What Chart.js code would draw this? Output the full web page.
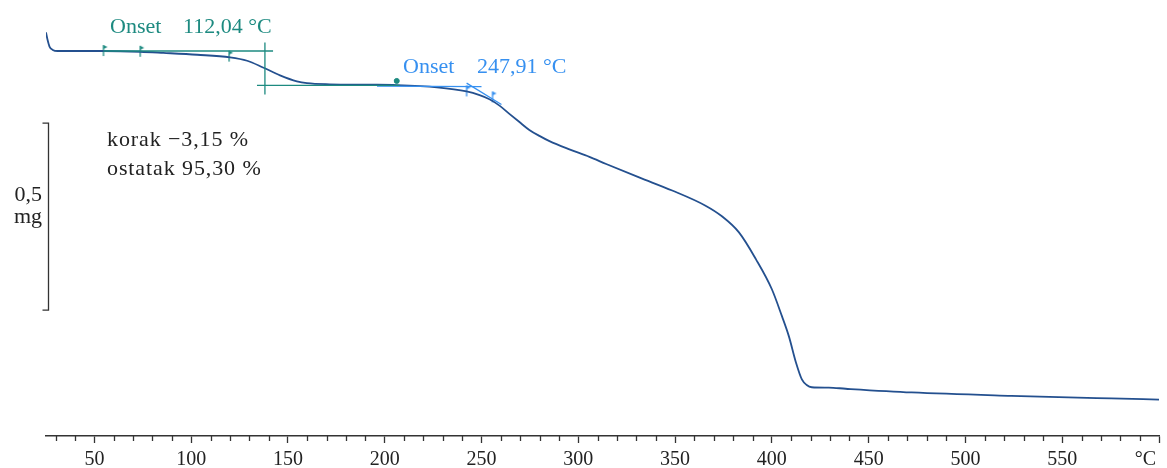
<!DOCTYPE html>
<html>
<head>
<meta charset="utf-8">
<script src="https://cdn.jsdelivr.net/npm/chart.js@4/dist/chart.umd.min.js"></script>
<style>
body { margin: 0; background: #fff; }
canvas { display: block; }
</style>
</head>
<body>
<canvas id="tg" width="1167" height="468"></canvas>
<script>
// TG curve, temperature in degC, mass in mg
var temps = [25.0, 25.8, 26.8, 28.5, 31, 54.6, 73.7, 85.6, 103.1, 120.1, 128.9, 137.1, 145.9, 154.6, 159.8, 171.6, 192.3, 206.2, 227, 242.3,
	249.0, 254.1, 259.3, 264.4, 269.6, 274.7, 279.9, 285.1, 295.4, 305.7, 314.4, 331.4, 348.5, 365.5, 374.2, 383.0, 391.8, 400.0, 405.2, 408.8,
	412.4, 415.5, 418.0, 420.6, 429.4, 438.1, 472.2, 523.7, 575.3, 600];
var mass = [3.020, 3.000, 2.982, 2.973, 2.970, 2.970, 2.968, 2.965, 2.960, 2.953, 2.944, 2.926, 2.905, 2.889, 2.884, 2.881, 2.880, 2.879, 2.873, 2.862,
	2.852, 2.841, 2.824, 2.802, 2.780, 2.759, 2.743, 2.729, 2.707, 2.687, 2.668, 2.632, 2.597, 2.557, 2.528, 2.485, 2.413, 2.333, 2.261, 2.207,
	2.138, 2.092, 2.077, 2.071, 2.070, 2.067, 2.057, 2.048, 2.041, 2.038];

// first step (teal) tangents and markers
var onset1Upper = [[54.6, 2.970], [142.3, 2.970]];
var onset1Vert = [[138.1, 2.993], [138.1, 2.854]];
var onset1Lower = [[134.0, 2.878], [207.7, 2.878]];
var onset1Flags = [[55.2, 2.970], [74.2, 2.968], [120.1, 2.955]];
var onset1Dot = [[206.2, 2.890]];

// second step (blue) tangents and markers
var onset2Flat = [[196.0, 2.876], [250.0, 2.875]];
var onset2Slope = [[242.3, 2.884], [260.3, 2.827]];
var onset2Flags = [[242.8, 2.862], [256.2, 2.846]];

var xMin = 25, xMax = 600;
var xStep = 10, xMajor = 50;
var scaleBar = [2.777, 2.277]; // 0,5 mg

var TEAL = "#1d8a80";
var BLUE = "#3690f0";
var CURVE = "#24508f";
var INK = "#222";
var SERIF = "'Liberation Serif', 'Times New Roman', serif";

function pts(a) {
	return a.map(function(p) { return { x: p[0], y: p[1] }; });
}

function makeFlag(color) {
	var c = document.createElement("canvas");
	c.width = 8;
	c.height = 14;
	var g = c.getContext("2d");
	g.strokeStyle = color;
	g.fillStyle = color;
	g.lineWidth = 1.3;
	g.beginPath();
	g.moveTo(3, 1);
	g.lineTo(3, 12);
	g.stroke();
	g.beginPath();
	g.moveTo(3, 1);
	g.lineTo(7, 3);
	g.lineTo(3, 5);
	g.closePath();
	g.fill();
	return c;
}

function tangent(a, color) {
	return {
		data: pts(a),
		borderColor: color,
		borderWidth: 1.3,
		pointRadius: 0,
		tension: 0
	};
}

var extras = {
	id: "extras",
	afterDraw: function(chart) {
		var ctx = chart.ctx;
		var xs = chart.scales.x;
		var ys = chart.scales.y;
		var bottom = xs.top;

		ctx.save();
		ctx.strokeStyle = "#333";
		ctx.lineWidth = 1.3;

		// minor ticks
		for(var v = 30; v < xMax; v += xStep) {
			if(v % xMajor === 0) continue;
			var px = Math.round(xs.getPixelForValue(v)) + 0.5;
			ctx.beginPath();
			ctx.moveTo(px, bottom);
			ctx.lineTo(px, bottom + 5);
			ctx.stroke();
		}

		// 0,5 mg bar
		var bx = chart.chartArea.left + 2.5;
		var t = ys.getPixelForValue(scaleBar[0]);
		var b = ys.getPixelForValue(scaleBar[1]);
		ctx.beginPath();
		ctx.moveTo(bx - 6, t);
		ctx.lineTo(bx, t);
		ctx.lineTo(bx, b);
		ctx.lineTo(bx - 6, b);
		ctx.stroke();

		ctx.fillStyle = INK;
		ctx.font = "22px " + SERIF;
		ctx.textAlign = "right";
		ctx.textBaseline = "alphabetic";
		ctx.fillText("0,5", 42, 201);
		ctx.fillText("mg", 42, 223);

		ctx.textAlign = "left";
		ctx.letterSpacing = "0.9px";
		ctx.fillText("korak \u22123,15 %", 107, 146);
		ctx.fillText("ostatak 95,30 %", 107, 175);
		ctx.letterSpacing = "0px";

		ctx.fillStyle = TEAL;
		ctx.fillText("Onset", 110, 33);
		ctx.fillText("112,04 \u00b0C", 183, 33);

		ctx.fillStyle = BLUE;
		ctx.fillText("Onset", 403, 73);
		ctx.fillText("247,91 \u00b0C", 477, 73);

		// unit at the end of the axis
		ctx.fillStyle = INK;
		ctx.font = "20px " + SERIF;
		ctx.textAlign = "right";
		ctx.textBaseline = "middle";
		ctx.fillText("\u00b0C", xs.right - 3, bottom + 23.5);
		ctx.restore();
	}
};

new Chart(document.getElementById("tg"), {
	type: "line",
	data: {
		datasets: [
			tangent(onset1Upper, TEAL),
			tangent(onset1Vert, TEAL),
			tangent(onset1Lower, TEAL),
			tangent(onset2Flat, BLUE),
			tangent(onset2Slope, BLUE),
			{
				data: temps.map(function(t, i) { return { x: t, y: mass[i] }; }),
				borderColor: CURVE,
				borderWidth: 1.8,
				pointRadius: 0,
				cubicInterpolationMode: "monotone"
			},
			{
				type: "scatter",
				data: pts(onset1Flags),
				pointStyle: makeFlag(TEAL)
			},
			{
				type: "scatter",
				data: pts(onset1Dot),
				pointStyle: "circle",
				pointRadius: 2.5,
				backgroundColor: TEAL,
				borderColor: TEAL
			},
			{
				type: "scatter",
				data: pts(onset2Flags),
				pointStyle: makeFlag(BLUE)
			}
		]
	},
	options: {
		responsive: false,
		animation: false,
		events: [],
		layout: { autoPadding: false, padding: { left: 46, right: 4, top: 0, bottom: 0 } },
		plugins: {
			legend: { display: false },
			tooltip: { enabled: false }
		},
		scales: {
			x: {
				type: "linear",
				min: xMin,
				max: xMax,
				afterFit: function(scale) {
					scale.height = 32; // axis line sits at y=436
				},
				border: { display: true, color: "#333", width: 1.5 },
				grid: {
					drawOnChartArea: false,
					drawTicks: true,
					tickLength: 7,
					tickWidth: 1.3,
					tickColor: function(c) {
						var v = c.tick ? c.tick.value : 0;
						return v % xMajor === 0 ? "#333" : "rgba(0,0,0,0)";
					}
				},
				ticks: {
					stepSize: xStep,
					autoSkip: false,
					maxRotation: 0,
					padding: 8,
					color: INK,
					font: { family: SERIF, size: 20, lineHeight: 0.85 },
					callback: function(v) {
						return (v % xMajor === 0 && v < xMax) ? String(v) : "";
					}
				}
			},
			y: {
				type: "linear",
				display: false,
				min: 1.9406,
				max: 3.1064
			}
		}
	},
	plugins: [extras]
});
</script>
</body>
</html>
